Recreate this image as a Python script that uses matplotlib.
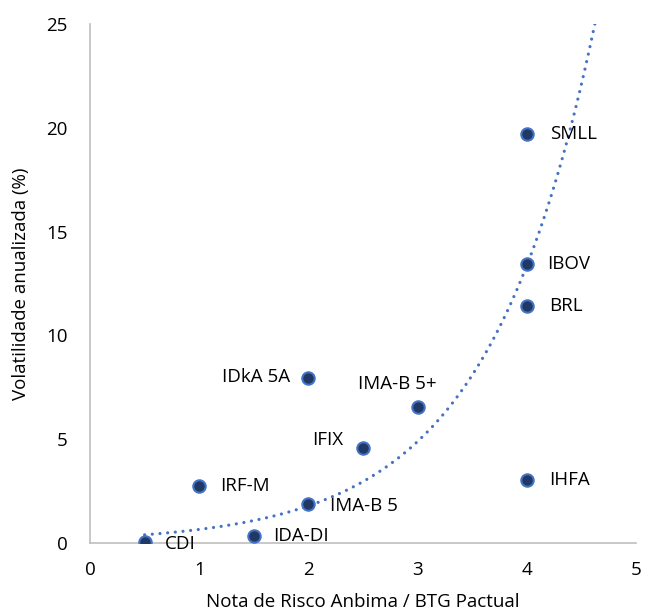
import numpy as np
from matplotlib import pyplot as plt

names = ['CDI', 'IRF-M', 'IDA-DI', 'IMA-B 5', 'IDkA 5A', 'IFIX', 'IMA-B 5+', 'IHFA', 'BRL', 'IBOV', 'SMLL']
nota = [0.5, 1, 1.5, 2, 2, 2.5, 3, 4, 4, 4, 4]
vol = [0.05, 2.75, 0.35, 1.9, 7.95, 4.6, 6.55, 3.05, 11.4, 13.45, 19.7]

# exponential trendline y = a * exp(b * x)
trend_a = 0.24
trend_b = 1.005
trend_x0 = 0.5

# label offsets in pixels (dx, dy, ha)
offsets = {
    'CDI': (20, -2, 'left'),
    'IRF-M': (21, 0, 'left'),
    'IDA-DI': (19, 0, 'left'),
    'IMA-B 5': (22, -2, 'left'),
    'IDkA 5A': (-18, 1, 'right'),
    'IFIX': (-20, 8, 'right'),
    'IMA-B 5+': (-20, 23, 'center'),
    'IHFA': (22, 0, 'left'),
    'BRL': (22, 0, 'left'),
    'IBOV': (20, 0, 'left'),
    'SMLL': (23, 0, 'left'),
}

plt.rcParams['font.family'] = ['Open Sans', 'DejaVu Sans']
fs = 13.5

fig = plt.figure(figsize=(6.49, 6.15), dpi=100)
ax = fig.add_axes([0.1387, 0.117, 0.8413, 0.844])

x_end = np.log(25 / trend_a) / trend_b
xt = np.linspace(trend_x0, x_end, 300)
ax.plot(xt, trend_a * np.exp(trend_b * xt), color='#4472C4', linestyle=(0, (0.01, 2.4)),
        linewidth=2.3, dash_capstyle='round', zorder=2)

ax.scatter(nota, vol, s=80, c='#203864', edgecolors='#4472C4', linewidths=1.5, zorder=3)

for n, x, y in zip(names, nota, vol):
    dx, dy, ha = offsets[n]
    ax.annotate(n, (x, y), xytext=(dx, dy), textcoords='offset pixels', ha=ha, va='center',
                fontsize=fs, color='#000000')

ax.set_xlim(0, 5)
ax.set_ylim(0, 25)
ax.set_xticks(range(6))
ax.set_yticks([0, 5, 10, 15, 20, 25])
ax.tick_params(length=0, labelsize=fs, colors='#000000')
ax.tick_params(axis='x', pad=13)
ax.tick_params(axis='y', pad=16)
for s in ['top', 'right']:
    ax.spines[s].set_visible(False)
for s in ['left', 'bottom']:
    ax.spines[s].set_color('#BFBFBF')
    ax.spines[s].set_linewidth(1.2)

ax.set_xlabel('Nota de Risco Anbima / BTG Pactual', fontsize=fs, labelpad=10)
ax.set_ylabel('Volatilidade anualizada (%)', fontsize=fs, labelpad=12)

fig.savefig('out.png', dpi=100)
